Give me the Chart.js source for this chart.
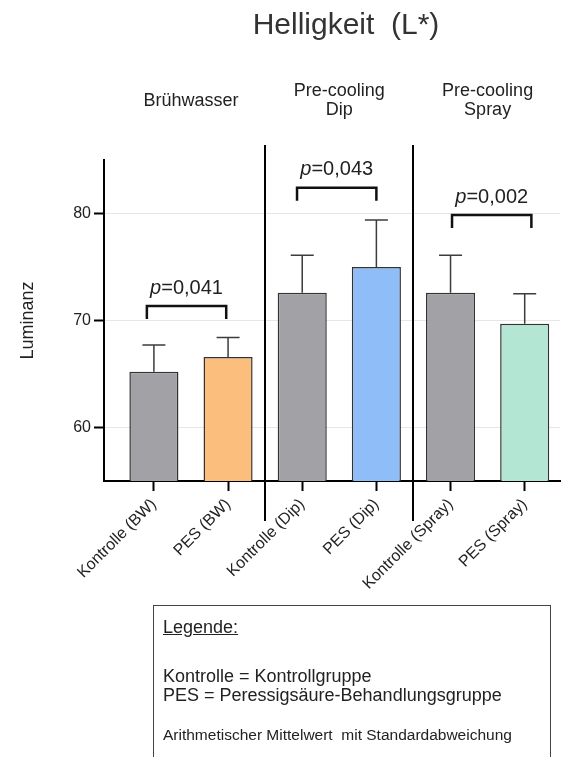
<!DOCTYPE html>
<html>
<head>
<meta charset="utf-8">
<script src="https://cdn.jsdelivr.net/npm/chart.js@4.4.1/dist/chart.umd.min.js"></script>
<style>
  body { margin: 0; background: #fff; }
  #wrap { position: relative; width: 561px; height: 757px; overflow: hidden; font-family: "Liberation Sans", Arial, sans-serif; color: #222; }
  #legend-box { position: absolute; left: 153px; top: 605px; width: 396px; height: 220px; border: 1.5px solid #444; }
  .lg { position: absolute; left: 163px; white-space: pre; line-height: 20px; }
</style>
</head>
<body>
<div id="wrap">
  <canvas id="chart" width="561" height="757"></canvas>
  <div id="legend-box"></div>
  <div class="lg" style="top:617px;font-size:18px;text-decoration:underline;">Legende:</div>
  <div class="lg" style="top:666px;font-size:18px;">Kontrolle = Kontrollgruppe</div>
  <div class="lg" style="top:685px;font-size:18px;">PES = Peressigsäure-Behandlungsgruppe</div>
  <div class="lg" style="top:725px;font-size:15.5px;">Arithmetischer Mittelwert  mit Standardabweichung</div>
</div>
<script>
// data
const categories = ['Kontrolle (BW)', 'PES (BW)', 'Kontrolle (Dip)', 'PES (Dip)', 'Kontrolle (Spray)', 'PES (Spray)'];
const means = [65.2, 66.6, 72.6, 75.0, 72.6, 69.7];
const sds = [2.5, 1.8, 3.5, 4.4, 3.5, 2.8];
const barColors = ['#a2a1a5', '#fcbe7d', '#a2a1a5', '#8fbdf7', '#a2a1a5', '#b3e6d3'];
const yTicks = [60, 70, 80];
const groupHeaders = [['Brühwasser'], ['Pre-cooling', 'Dip'], ['Pre-cooling', 'Spray']];
const pValues = ['0,041', '0,043', '0,002'];
const bracketY = [71.35, 82.4, 79.85];
const bracketShift = [-0.06, -0.035, 0.055];
const separators = [1.5, 3.5];

const FONT = '"Liberation Sans", Arial, sans-serif';

const overlay = {
  id: 'overlay',
  afterDatasetsDraw(chart) {
    const {ctx, scales: {x, y}} = chart;
    ctx.save();

    // error bars (mean + SD)
    ctx.strokeStyle = '#3c3c3c';
    ctx.lineWidth = 1.5;
    means.forEach((m, i) => {
      const px = x.getPixelForValue(i);
      const y0 = y.getPixelForValue(m);
      const y1 = y.getPixelForValue(m + sds[i]);
      ctx.beginPath();
      ctx.moveTo(px, y0);
      ctx.lineTo(px, y1);
      ctx.moveTo(x.getPixelForValue(i - 0.155), y1);
      ctx.lineTo(x.getPixelForValue(i + 0.155), y1);
      ctx.stroke();
    });

    // group separators
    ctx.strokeStyle = '#000';
    ctx.lineWidth = 2;
    separators.forEach(s => {
      const px = Math.round(x.getPixelForValue(s));
      ctx.beginPath();
      ctx.moveTo(px, 145);
      ctx.lineTo(px, 521);
      ctx.stroke();
    });

    // significance brackets
    ctx.strokeStyle = '#111';
    ctx.lineWidth = 2.5;
    ctx.lineJoin = 'miter';
    ctx.fillStyle = '#222';
    ctx.textBaseline = 'alphabetic';
    bracketY.forEach((b, g) => {
      const c = g * 2 + 0.5 + bracketShift[g];
      const l = x.getPixelForValue(c - 0.535);
      const r = x.getPixelForValue(c + 0.535);
      const yb = y.getPixelForValue(b);
      const leg = y.getPixelForValue(b - 1.2);
      ctx.beginPath();
      ctx.moveTo(l, leg);
      ctx.lineTo(l, yb);
      ctx.lineTo(r, yb);
      ctx.lineTo(r, leg);
      ctx.stroke();

      ctx.font = 'italic 20px ' + FONT;
      const wp = ctx.measureText('p').width;
      ctx.font = '20px ' + FONT;
      const rest = '=' + pValues[g];
      const wr = ctx.measureText(rest).width;
      const start = (l + r) / 2 - (wp + wr) / 2;
      ctx.textAlign = 'left';
      ctx.font = 'italic 20px ' + FONT;
      ctx.fillText('p', start, yb - 12.5);
      ctx.font = '20px ' + FONT;
      ctx.fillText(rest, start + wp, yb - 12.5);
    });

    // group headers
    ctx.textAlign = 'center';
    ctx.font = '18px ' + FONT;
    groupHeaders.forEach((lines, g) => {
      const px = x.getPixelForValue(g * 2 + 0.5);
      lines.forEach((t, k) => {
        ctx.fillText(t, px, 105.5 - (lines.length - 1) * 9.5 + k * 19);
      });
    });

    // title
    ctx.fillStyle = '#333';
    ctx.font = '30px ' + FONT;
    ctx.fillText('Helligkeit  (L*)', 346, 34);

    ctx.restore();
  }
};

const ctx = document.getElementById('chart').getContext('2d');
new Chart(ctx, {
  type: 'bar',
  data: {
    datasets: [{
      data: means.map((m, i) => ({x: i, y: m})),
      backgroundColor: barColors,
      borderColor: '#333',
      borderWidth: 1.5,
      borderSkipped: false,
      categoryPercentage: 1,
      barPercentage: 0.662
    }]
  },
  options: {
    responsive: false,
    animation: false,
    devicePixelRatio: 1,
    layout: { padding: { top: 160, right: 1, bottom: 156, left: 0 } },
    plugins: { legend: { display: false }, tooltip: { enabled: false } },
    scales: {
      x: {
        type: 'linear',
        offset: false,
        min: -0.673,
        max: 5.476,
        afterBuildTicks: s => { s.ticks = categories.map((c, i) => ({value: i})); },
        afterFit: s => { s.height = 120; },
        ticks: {
          callback: v => categories[v],
          minRotation: 45,
          maxRotation: 45,
          color: '#222',
          font: { size: 16, family: FONT },
          padding: 4
        },
        grid: { offset: false, drawOnChartArea: false, tickLength: 10, tickColor: '#000', tickWidth: 2 },
        border: { color: '#000', width: 2 }
      },
      y: {
        min: 55,
        max: 85,
        afterBuildTicks: s => { s.ticks = yTicks.map(v => ({value: v})); },
        afterFit: s => { s.width = 104; },
        ticks: { color: '#222', font: { size: 16, family: FONT }, padding: 3 },
        grid: { color: '#e6e6e6', lineWidth: 1, tickLength: 10, tickColor: '#000', tickWidth: 2 },
        border: { color: '#000', width: 2 },
        title: {
          display: true,
          text: 'Luminanz',
          color: '#222',
          font: { size: 18, family: FONT },
          padding: { top: 17, bottom: 0 }
        }
      }
    }
  },
  plugins: [overlay]
});
</script>
</body>
</html>
